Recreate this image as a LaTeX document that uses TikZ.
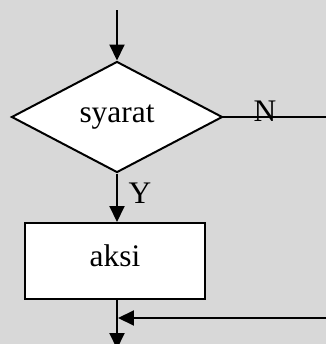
\documentclass[tikz,border=0pt]{standalone}
\usepackage{fontspec}
\setmainfont{Liberation Serif}
\usetikzlibrary{shapes.geometric,arrows.meta}
\definecolor{paper}{RGB}{216,216,216}
\newcommand*{\FlowFont}{\fontsize{15.7}{18}\selectfont}
\tikzset{
  flow/.style={line width=1pt,-{Triangle[length=8pt,width=7.5pt]}},
  plain/.style={line width=1pt},
  decision/.style={diamond,draw,line width=1pt,fill=white,inner sep=0pt,
    minimum width=105.5pt,minimum height=55.5pt,font=\FlowFont},
  process/.style={rectangle,draw,line width=1pt,fill=white,inner sep=0pt,
    minimum width=90pt,minimum height=38pt,text depth=5pt,font=\FlowFont},
  branch/.style={inner sep=0pt,font=\FlowFont}
}

\begin{document}
\begin{tikzpicture}[x=1pt,y=1pt]
    \fill[paper] (0,0) rectangle (163,172);
    \useasboundingbox (0,0) rectangle (163,172);

    % condition and action
    \node[decision] (cond) at (58.5,113.5) {syarat};
    \node[process] (act) at (57.5,41.5) {aksi};

    % loose ends at the edges
    \coordinate (start) at (58.5,167);
    \coordinate (exitN) at (166,113.5);
    \coordinate (loopin) at (166,13);
    \coordinate (join) at (59,13);
    \coordinate (stop) at (58.5,-2.5);

    \draw[flow] (start) -- (cond.north);
    \draw[flow] (cond.south) -- (cond.south |- act.north);
    \draw[plain] (cond.east) -- (exitN);
    \draw[flow] (cond.south |- act.south) -- (stop);
    \draw[flow] (loopin) -- (join);

    % branch labels
    \node[branch] (lblN) at (132.5,116.5) {N};
    \node[branch] (lblY) at (70,75.5) {Y};
\end{tikzpicture}
\end{document}
